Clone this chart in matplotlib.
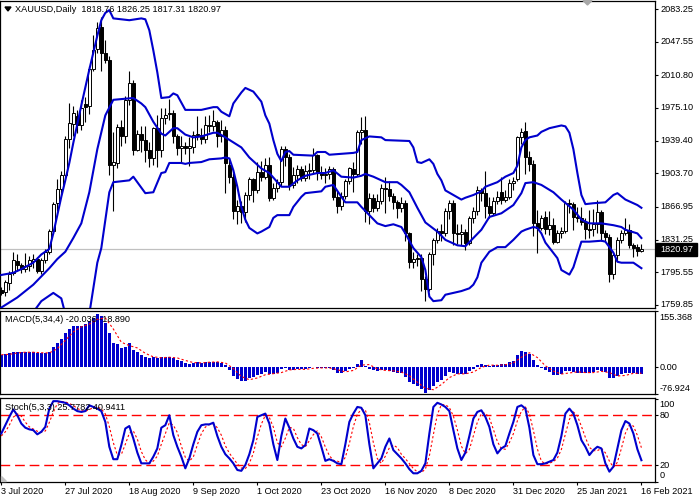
import matplotlib
matplotlib.use("Agg")
import matplotlib.pyplot as plt
from matplotlib.patches import Polygon, Rectangle

plt.rcParams['font.family'] = ['Liberation Sans', 'DejaVu Sans']

# XAUUSD daily bars, 3 Jul 2020 .. 16 Feb 2021
opens = [1776, 1774, 1784, 1795, 1808, 1803, 1799, 1802, 1808, 1810,
         1797, 1809, 1818, 1841, 1871, 1887, 1902, 1941, 1958, 1966,
         1956, 1979, 1977, 2018, 2039, 2064, 2035, 2028, 1913, 1915,
         1954, 1945, 1984, 2002, 1929, 1947, 1940, 1929, 1920, 1953,
         1929, 1964, 1968, 1970, 1944, 1931, 1934, 1931, 1932, 1946,
         1946, 1941, 1956, 1955, 1960, 1944, 1951, 1913, 1900, 1863,
         1868, 1861, 1880, 1897, 1886, 1905, 1900, 1913, 1877, 1888,
         1894, 1930, 1922, 1891, 1902, 1908, 1899, 1906, 1907, 1924,
         1904, 1902, 1903, 1908, 1878, 1868, 1879, 1895, 1908, 1903,
         1949, 1951, 1862, 1877, 1866, 1873, 1888, 1887, 1879, 1872,
         1866, 1871, 1838, 1807, 1810, 1811, 1788, 1777, 1815, 1831,
         1841, 1838, 1863, 1871, 1839, 1837, 1840, 1828, 1855, 1862,
         1886, 1882, 1868, 1860, 1873, 1883, 1875, 1878, 1893, 1898,
         1943, 1950, 1921, 1914, 1849, 1844, 1856, 1843, 1847, 1829,
         1839, 1841, 1871, 1870, 1856, 1855, 1851, 1843, 1843, 1848,
         1861, 1838, 1834, 1794, 1814, 1831, 1838, 1842, 1825, 1823,
         1818.76]
highs = [1779, 1787, 1797, 1818, 1816, 1806, 1817, 1813, 1815, 1812,
         1811, 1821, 1843, 1872, 1898, 1906, 1945, 1981, 1977, 1973,
         1984, 1987, 2021, 2055, 2069, 2075, 2049, 2032, 1949, 1958,
         1962, 1988, 2016, 2006, 1951, 1955, 1955, 1938, 1954, 1967,
         1975, 1975, 1985, 1973, 1947, 1945, 1938, 1943, 1950, 1966,
         1953, 1966, 1967, 1973, 1962, 1962, 1955, 1918, 1904, 1875,
         1873, 1883, 1900, 1899, 1916, 1917, 1920, 1921, 1893, 1898,
         1933, 1933, 1925, 1911, 1913, 1912, 1913, 1915, 1931, 1925,
         1912, 1910, 1912, 1911, 1884, 1883, 1897, 1911, 1916, 1951,
         1965, 1966, 1882, 1881, 1881, 1892, 1900, 1895, 1882, 1875,
         1878, 1875, 1840, 1818, 1815, 1816, 1792, 1818, 1833, 1844,
         1848, 1866, 1875, 1875, 1848, 1848, 1843, 1857, 1867, 1890,
         1888, 1906, 1878, 1878, 1884, 1900, 1885, 1897, 1900, 1945,
         1953, 1960, 1928, 1918, 1864, 1858, 1862, 1862, 1855, 1842,
         1845, 1873, 1876, 1872, 1867, 1867, 1855, 1864, 1865, 1875,
         1864, 1842, 1837, 1817, 1834, 1842, 1855, 1848, 1828, 1826,
         1826.25]
lows = [1771, 1770, 1776, 1793, 1797, 1795, 1796, 1797, 1800, 1795,
        1794, 1806, 1815, 1838, 1862, 1880, 1900, 1931, 1945, 1948,
        1951, 1960, 1969, 2015, 2035, 2015, 2024, 1902, 1863, 1910,
        1934, 1937, 1978, 1924, 1928, 1927, 1916, 1911, 1913, 1911,
        1921, 1958, 1962, 1937, 1924, 1916, 1925, 1912, 1926, 1940,
        1936, 1937, 1949, 1950, 1932, 1938, 1882, 1893, 1854, 1848,
        1849, 1850, 1874, 1872, 1882, 1895, 1897, 1873, 1874, 1883,
        1890, 1912, 1886, 1888, 1893, 1895, 1895, 1898, 1903, 1896,
        1897, 1893, 1898, 1875, 1860, 1864, 1876, 1892, 1883, 1901,
        1936, 1850, 1848, 1861, 1862, 1870, 1860, 1873, 1865, 1855,
        1861, 1830, 1800, 1800, 1802, 1775, 1764, 1775, 1804, 1828,
        1830, 1835, 1854, 1825, 1826, 1825, 1820, 1825, 1849, 1858,
        1873, 1855, 1855, 1858, 1870, 1870, 1872, 1876, 1885, 1895,
        1936, 1903, 1906, 1835, 1817, 1842, 1837, 1836, 1826, 1827,
        1833, 1838, 1860, 1842, 1850, 1847, 1832, 1833, 1835, 1838,
        1830, 1830, 1785, 1788, 1808, 1828, 1836, 1822, 1812, 1813,
        1817.31]
closes = [1773, 1785, 1794, 1809, 1803, 1799, 1802, 1809, 1810, 1797,
          1809, 1818, 1841, 1870, 1887, 1902, 1941, 1959, 1970, 1956,
          1975, 1976, 2018, 2038, 2063, 2035, 2028, 1913, 1916, 1954,
          1945, 1984, 2002, 1929, 1947, 1940, 1929, 1920, 1953, 1929,
          1964, 1967, 1970, 1944, 1931, 1934, 1931, 1933, 1946, 1947,
          1941, 1956, 1955, 1961, 1944, 1951, 1915, 1900, 1863, 1868,
          1861, 1880, 1897, 1886, 1905, 1900, 1913, 1877, 1888, 1894,
          1930, 1922, 1891, 1902, 1908, 1899, 1906, 1907, 1924, 1904,
          1902, 1903, 1908, 1878, 1868, 1879, 1895, 1909, 1903, 1949,
          1951, 1862, 1877, 1866, 1873, 1888, 1887, 1879, 1872, 1866,
          1871, 1838, 1807, 1810, 1811, 1788, 1777, 1815, 1831, 1841,
          1838, 1863, 1871, 1839, 1837, 1840, 1828, 1855, 1862, 1886,
          1882, 1868, 1860, 1873, 1878, 1875, 1878, 1893, 1895, 1943,
          1949, 1921, 1914, 1849, 1844, 1855, 1843, 1847, 1829, 1839,
          1841, 1871, 1870, 1856, 1855, 1851, 1843, 1842, 1848, 1861,
          1838, 1834, 1794, 1814, 1831, 1838, 1842, 1825, 1822, 1819,
          1820.97]

# Bollinger bands, read at the bars where the curves bend
upper_at = [0, 3, 5, 8, 10, 12, 13, 14, 15, 16, 17, 18, 20, 22, 24, 25, 26, 27, 28, 32,
            35, 36, 37, 38, 39, 40, 42, 43, 44, 46, 50, 53, 54, 55, 57, 58, 60, 61, 63, 65,
            66, 67, 68, 69, 70, 71, 72, 73, 78, 79, 81, 82, 85, 88, 89, 90, 92, 95, 96, 102,
            103, 104, 105, 107, 108, 109, 110, 111, 113, 115, 116, 118, 120, 121, 124, 126,
            128, 129, 130, 131, 132, 134, 135, 137, 140, 141, 142, 143, 144, 145, 146, 148,
            151, 153, 154, 156, 159, 160]
upper = [1792.6, 1795, 1799, 1806, 1815, 1821, 1838, 1858, 1878, 1896, 1915, 1937, 1978,
         2017, 2054, 2071, 2079, 2082, 2073, 2071, 2073, 2072, 2060, 2038, 2014, 1986, 1987,
         1991, 1989, 1973, 1973, 1976, 1976, 1971, 1966, 1980, 1992, 1997, 1993, 1982, 1967,
         1958, 1940, 1925, 1917, 1927, 1928, 1924, 1923, 1927, 1927, 1924, 1925, 1926, 1927,
         1940, 1944, 1943, 1940, 1939, 1932, 1916, 1915, 1919, 1914, 1903, 1896, 1885, 1880,
         1875, 1877, 1880, 1884, 1889, 1894, 1900, 1904, 1912, 1932, 1940, 1943, 1945, 1949,
         1953, 1956, 1955, 1948, 1930, 1904, 1880, 1870, 1871, 1872, 1880, 1882, 1875, 1869,
         1866]
middle_at = [0, 4, 8, 12, 14, 16, 18, 20, 22, 24, 26, 28, 33, 35, 36, 38, 40, 41, 43, 44,
             46, 48, 50, 53, 54, 56, 60, 62, 65, 67, 69, 70, 72, 74, 76, 79, 81, 83, 85, 88,
             90, 91, 93, 96, 99, 100, 102, 104, 106, 109, 111, 114, 116, 118, 120, 122, 125,
             128, 130, 131, 133, 135, 138, 140, 143, 145, 147, 150, 153, 155, 156, 159, 160]
middle = [1757, 1768, 1782, 1800, 1810, 1818, 1833, 1849, 1883, 1930, 1967, 1984, 1986,
          1980, 1976, 1960, 1947, 1945, 1953, 1953, 1946, 1943, 1944, 1948, 1948, 1943, 1932,
          1921, 1909, 1904, 1894, 1889, 1889, 1896, 1901, 1904, 1904, 1907, 1900, 1899, 1901,
          1903, 1900, 1894, 1894, 1891, 1883, 1866, 1850, 1840, 1831, 1825, 1824, 1833, 1842,
          1856, 1860, 1869, 1882, 1893, 1894, 1891, 1883, 1875, 1864, 1853, 1849, 1849, 1847,
          1845, 1842, 1838, 1833]
lower_at = [0, 4, 8, 10, 13, 15, 16, 18, 20, 21, 22, 23, 24, 25, 27, 28, 32, 33, 36, 38,
            40, 41, 42, 45, 46, 47, 50, 52, 55, 56, 57, 58, 59, 60, 61, 62, 64, 65, 67, 68,
            69, 72, 73, 75, 76, 78, 80, 81, 83, 85, 86, 89, 90, 94, 96, 98, 100, 101, 103, 105,
            106, 107, 108, 110, 111, 113, 115, 117, 118, 119, 120, 121, 122, 124, 126, 128,
            130, 131, 133, 134, 135, 136, 139, 140, 142, 143, 145, 147, 150, 151, 153, 154,
            155, 158, 160]
lower = [1721, 1738, 1752, 1764, 1773, 1767, 1750, 1726, 1712, 1722, 1750, 1778, 1806, 1822,
         1883, 1894, 1896, 1900, 1882, 1883, 1904, 1905, 1915, 1915, 1914, 1915, 1916, 1919,
         1920, 1921, 1920, 1907, 1889, 1867, 1853, 1844, 1838, 1840, 1845, 1855, 1858, 1858,
         1867, 1878, 1882, 1883, 1884, 1889, 1891, 1878, 1872, 1872, 1867, 1849, 1846, 1848,
         1845, 1838, 1822, 1812, 1798, 1769, 1764, 1765, 1771, 1773, 1775, 1778, 1782, 1790,
         1806, 1812, 1818, 1823, 1823, 1831, 1840, 1842, 1845, 1844, 1838, 1828, 1811, 1798,
         1793, 1801, 1829, 1829, 1830, 1829, 1817, 1807, 1806, 1806, 1800]

# MACD(5,34,4): histogram per bar, signal read every second bar
macd = [32, 34, 37, 41.5, 40, 40, 40, 40, 40, 37,
        37, 37, 41.5, 55.5, 66.7, 76, 93, 104, 113, 113,
        113, 119, 128, 135, 146, 140, 123, 93, 66.7, 63,
        51, 55.5, 65, 46, 42, 32, 28, 23, 26, 23,
        26, 26, 28, 23, 18, 16, 11, 7, 11, 12,
        11, 13, 13, 13, 13, 11, 4, -10, -27, -36,
        -40, -40, -33, -30, -24, -21, -16, -22, -21, -18,
        -7, -4, -9, -10, -8, -8, -6, -5, -2, -4,
        -4, -4, -3, -11, -18, -19, -13, -6, -5, 8,
        18, 2, -6, -11, -13, -10, -10, -12, -15, -17,
        -18, -28, -42, -50, -55, -64, -74, -66, -55, -44,
        -37, -26, -16, -19, -21, -20, -22, -13, -7, 4,
        6, 4, 2, 3, 5, 6, 7, 12, 15, 33,
        44, 41, 36, 18, 4, -4, -9, -16, -24, -25,
        -20, -13, -13, -16, -17, -17, -18, -18, -14, -10,
        -12, -15, -31, -33, -27, -22, -19, -17, -18, -20.5,
        -20.036]
signal_at = list(range(0, 161, 2))
signal = [33, 34, 38, 40, 40, 38.5, 38, 50, 73, 97,
          111, 118.5, 132, 136, 105, 68, 58.5, 52, 37, 27,
          24.5, 26, 24, 17, 11, 10, 12, 13, 10, -5.5,
          -28, -37, -32, -23, -20, -17, -9.5, -8, -8, -5,
          -4, -4, -9, -15, -11, 4, 5.5, -7, -11, -12,
          -15.5, -26, -44, -61, -65, -50.5, -31, -20.5, -20.5, -15.5,
          -2.5, 4, 3.5, 5, 10, 26, 38.5, 25, 2, -13,
          -21, -18, -15, -17, -17, -13.5, -17, -26.5, -25, -19,
          -18.89]

# Stochastic(5,3,3)
stoch_k = [58, 68, 78, 87, 80, 70, 65, 63, 62, 57,
           60, 66, 88, 97, 97, 96, 95, 92, 88, 85,
           84, 85, 92, 90, 88, 85, 72, 42, 27, 27,
           44, 64, 67, 52, 35, 22, 22, 22, 30, 40,
           65, 68, 80, 56, 42, 30, 16, 28, 45, 60,
           68, 69, 69, 71, 55, 42, 33, 28, 22, 14,
           13, 20, 33, 50, 78, 80, 82, 70, 45, 26,
           55, 76, 65, 52, 42, 40, 44, 64, 62, 58,
           42, 25, 27, 25, 22, 21, 45, 72, 82, 90,
           89, 80, 45, 16, 22, 28, 42, 52, 38, 33,
           28, 22, 15, 10, 10, 13, 22, 58, 90, 95,
           93, 90, 85, 62, 40, 26, 35, 55, 76, 84,
           86, 78, 66, 45, 34, 40, 43, 58, 72, 90,
           92, 88, 65, 32, 21, 21, 22, 24, 26, 35,
           55, 82, 88, 82, 68, 50, 42, 32, 38, 42,
           40, 22, 12, 18, 40, 62, 73, 70, 58, 39,
           25.7782]
stoch_d = [55, 60, 68, 77.7, 81.7, 79, 71.7, 66, 63.3, 60.7,
           59.7, 61, 71.3, 83.7, 94, 96.7, 96, 94.3, 91.7, 88.3,
           85.7, 84.7, 87, 89, 90, 87.7, 81.7, 66.3, 47, 32,
           32.7, 45, 58.3, 61, 51.3, 36.3, 26.3, 22, 24.7, 30.7,
           45, 57.7, 71, 68, 59.3, 42.7, 29.3, 24.7, 29.7, 44.3,
           57.7, 65.7, 68.7, 69.7, 65, 56, 43.3, 34.3, 27.7, 21.3,
           16.3, 15.7, 22, 34.3, 53.7, 69.3, 80, 77.3, 65.7, 47,
           42, 52.3, 65.3, 64.3, 53, 44.7, 42, 49.3, 56.7, 61.3,
           54, 41.7, 31.3, 25.7, 24.7, 22.7, 29.3, 46, 66.3, 81.3,
           87, 86.3, 71.3, 47, 27.7, 22, 30.7, 40.7, 44, 41,
           33, 27.7, 21.7, 15.7, 11.7, 11, 15, 31, 56.7, 81,
           92.7, 92.7, 89.3, 79, 62.3, 42.7, 33.7, 38.7, 55.3, 71.7,
           82, 82.7, 76.7, 63, 48.3, 39.7, 39, 47, 57.7, 73.3,
           84.7, 90, 81.7, 61.7, 39.3, 24.7, 21.3, 22.3, 24, 28.3,
           38.7, 57.3, 75, 84, 79.3, 66.7, 53.3, 41.3, 37.3, 37.3,
           40, 34.7, 24.7, 17.3, 23.3, 40, 58.3, 68.3, 67, 55.7,
           40.9411]

price_ticks = [2083.25, 2047.55, 2010.80, 1975.10, 1939.40, 1903.70, 1866.95, 1831.25,
               1795.55, 1759.85]
date_bars = [0, 16, 32, 48, 64, 80, 96, 112, 128, 144, 160]
date_labels = ['3 Jul 2020', '27 Jul 2020', '18 Aug 2020', '9 Sep 2020', '1 Oct 2020',
               '23 Oct 2020', '16 Nov 2020', '8 Dec 2020', '31 Dec 2020', '25 Jan 2021',
               '16 Feb 2021']
last_price = 1820.97

W, H = 700, 500
BLUE = '#0000CD'
FS = 6.6


def frame(top, bottom, left=0, right=655):
    return [left / W, 1 - bottom / H, (right - left) / W, (bottom - top) / H]


def put(x, y, s, **kw):
    fig.text(x / W, 1 - y / H, s, fontsize=FS, va='center', ha='left', **kw)


fig = plt.figure(figsize=(7, 5), dpi=100)
ax = fig.add_axes(frame(1, 308))
ax_macd = fig.add_axes(frame(311, 394))
ax_st = fig.add_axes(frame(398, 481.6))

n = len(closes)
xs = list(range(n))
for a in (ax, ax_macd, ax_st):
    a.set_xlim(-0.325, 163.4)
    for s in a.spines.values():
        s.set_linewidth(0.9)
        s.set_color('black')
    a.tick_params(axis='y', left=False, right=True, labelleft=False, labelright=False,
                  length=2.5, width=0.8, direction='out')
    a.tick_params(axis='x', bottom=False, labelbottom=False)

# price panel
ax.set_ylim(1756.5, 2092.0)
ax.axhline(last_price, color='#C0C0C0', lw=0.9, zorder=1)
ax.vlines(xs, lows, highs, color='black', lw=0.8, zorder=2)
body_lo = [min(o, c) for o, c in zip(opens, closes)]
body_h = [max(abs(c - o), 0.5) for o, c in zip(opens, closes)]
body_col = ['white' if c >= o else 'black' for o, c in zip(opens, closes)]
ax.bar(xs, body_h, bottom=body_lo, width=0.6, color=body_col, edgecolor='black',
       linewidth=0.7, zorder=3)
ax.plot(upper_at, upper, color=BLUE, lw=1.5, zorder=4)
ax.plot(middle_at, middle, color=BLUE, lw=1.5, zorder=4)
ax.plot(lower_at, lower, color=BLUE, lw=1.5, zorder=4)
ax.set_yticks(price_ticks)
for v in price_ticks:
    ax.text(1 + 5 / 655, v, '%.2f' % v, transform=ax.get_yaxis_transform(),
            fontsize=FS, va='center', ha='left', clip_on=False)

# MACD panel
ax_macd.set_ylim(-76.924, 155.368)
ax_macd.bar(xs, macd, width=0.7, color=BLUE, zorder=2)
ax_macd.plot(signal_at, signal, color='red', lw=0.8, ls=(0, (2, 2)), zorder=3)
ax_macd.set_yticks([155.368, 0, -76.924])

# stochastic panel
ax_st.set_ylim(0, 100.8)
ax_st.axhline(80, color='red', lw=1.0, ls=(0, (7, 3.5)), zorder=1)
ax_st.axhline(20, color='red', lw=1.0, ls=(0, (7, 3.5)), zorder=1)
ax_st.plot(xs, stoch_k, color=BLUE, lw=1.5, zorder=3)
ax_st.plot(xs, stoch_d, color='red', lw=0.8, ls=(0, (2, 2)), zorder=2)
ax_st.set_yticks([100, 80, 20, 0])
ax_st.set_xticks(date_bars)
ax_st.tick_params(axis='x', bottom=True, length=2.5, width=0.8, direction='out')

# texts
put(15, 9, 'XAUUSD,Daily  1818.76 1826.25 1817.31 1820.97')
put(5, 320, 'MACD(5,34,4) -20.036 -18.890')
put(5, 407, 'Stoch(5,3,3) 25.7782 40.9411')
for lab, y in [('155.368', 317.3), ('0.00', 367.7), ('-76.924', 388.3),
               ('100', 404.3), ('80', 415.5), ('20', 465), ('0', 475)]:
    put(659.5, y, lab)
for b, lab in zip(date_bars, date_labels):
    put(max(1.3 + 4 * b - 0.5, 0), 491.7, lab)

# current price box
fig.add_artist(Rectangle((656 / W, 1 - 256 / H), 41 / W, 13 / H, transform=fig.transFigure,
                         color='black'))
put(660, 249.5, '%.2f' % last_price, color='white')


def tri(pts, color):
    fig.add_artist(Polygon([(x / W, 1 - y / H) for x, y in pts], closed=True,
                           transform=fig.transFigure, color=color))


tri([(5, 7), (11, 7), (8, 11)], 'black')
tri([(583, 0.5), (592, 0.5), (587.5, 5)], '#A8A8A8')
tri([(0.5, 476), (0.5, 481), (5.5, 481)], '#C0C0C0')

fig.savefig('out.png', dpi=100)
